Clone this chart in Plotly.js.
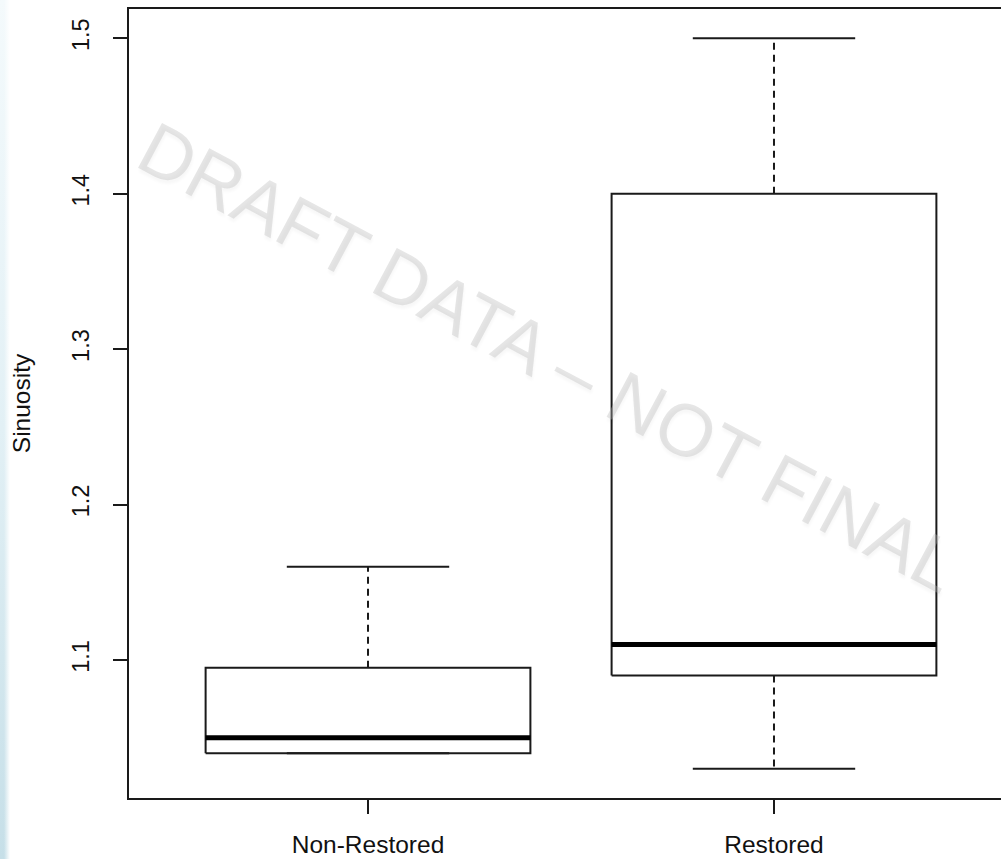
<!DOCTYPE html>
<html>
<head>
<meta charset="utf-8">
<script src="https://cdn.plot.ly/plotly-3.0.1.min.js"></script>
<style>
  html, body { margin: 0; padding: 0; width: 1001px; height: 859px; overflow: hidden; background: #ffffff; }
  #strip { position: absolute; left: 0; top: 0; width: 10px; height: 859px;
    background: linear-gradient(to bottom, #f4fafc 0%, #e2f0f5 50%, #c6dfe8 100%); }
  #strip::after { content: ""; position: absolute; left: 0; top: 0; width: 10px; height: 100%;
    background: linear-gradient(to right, rgba(255,255,255,0) 0%, rgba(255,255,255,0) 40%, rgba(255,255,255,1) 100%); }
  #chart { position: absolute; left: 0; top: 0; }
</style>
</head>
<body>
<div id="strip"></div>
<div id="chart"></div>
<script>
// ---- data ----
const groups = ['Non-Restored', 'Restored'];
const lowerWhisker = [1.04, 1.03];
const q1 = [1.04, 1.09];
const median = [1.05, 1.11];
const q3 = [1.095, 1.40];
const upperWhisker = [1.16, 1.50];
const yTicks = [1.1, 1.2, 1.3, 1.4, 1.5];
const yTickLabels = ['1.1', '1.2', '1.3', '1.4', '1.5'];
const yLabel = 'Sinuosity';
const watermark = 'DRAFT DATA \u2013 NOT FINAL';

// ---- style ----
const halfBox = 0.4, halfCap = 0.2;
const lineCol = '#1a1a1a';
const FONT = 'Liberation Sans, Arial, sans-serif';

const pos = groups.map((g, i) => i + 1);

const boxX = [], boxY = [], medX = [], medY = [], whX = [], whY = [], capX = [], capY = [];
pos.forEach((p, i) => {
  boxX.push(p - halfBox, p + halfBox, p + halfBox, p - halfBox, p - halfBox, null);
  boxY.push(q1[i], q1[i], q3[i], q3[i], q1[i], null);
  medX.push(p - halfBox, p + halfBox, null);
  medY.push(median[i], median[i], null);
  if (upperWhisker[i] > q3[i]) { whX.push(p, p, null); whY.push(q3[i], upperWhisker[i], null); }
  if (lowerWhisker[i] < q1[i]) { whX.push(p, p, null); whY.push(q1[i], lowerWhisker[i], null); }
  capX.push(p - halfCap, p + halfCap, null, p - halfCap, p + halfCap, null);
  capY.push(upperWhisker[i], upperWhisker[i], null, lowerWhisker[i], lowerWhisker[i], null);
});

const traces = [
  { x: whX, y: whY, mode: 'lines', line: { color: lineCol, width: 2, dash: '7px,5px' }, hoverinfo: 'skip' },
  { x: capX, y: capY, mode: 'lines', line: { color: lineCol, width: 2 }, hoverinfo: 'skip' },
  { x: boxX, y: boxY, mode: 'lines', line: { color: lineCol, width: 2 }, hoverinfo: 'skip' },
  { x: medX, y: medY, mode: 'lines', line: { color: '#000000', width: 5 }, hoverinfo: 'skip' }
];

const layout = {
  width: 1014, height: 859,
  margin: { l: 129, r: 1, t: 9, b: 61 },
  paper_bgcolor: 'rgba(0,0,0,0)',
  plot_bgcolor: 'rgba(0,0,0,0)',
  showlegend: false,
  font: { family: FONT, color: '#000000', size: 24 },
  xaxis: {
    range: [0.4113, 2.5887],
    tickmode: 'array', tickvals: pos, ticktext: groups,
    ticks: 'outside', ticklen: 14, tickwidth: 2, tickcolor: lineCol,
    showline: true, linewidth: 2, linecolor: lineCol, mirror: true,
    showgrid: false, zeroline: false,
    tickfont: { family: FONT, size: 24.5, color: '#111' },
    ticklabelstandoff: 10
  },
  yaxis: {
    range: [1.0112, 1.5188],
    tickmode: 'array', tickvals: yTicks, ticktext: yTickLabels,
    ticks: 'outside', ticklen: 14, tickwidth: 2, tickcolor: lineCol,
    tickangle: -90,
    showline: true, linewidth: 2, linecolor: lineCol, mirror: true,
    showgrid: false, zeroline: false,
    tickfont: { family: FONT, size: 23.5, color: '#111' },
    ticklabelstandoff: 15,
    title: { text: yLabel, font: { family: FONT, size: 24.5, color: '#111' }, standoff: 30 }
  },
  annotations: [{
    text: watermark, xref: 'paper', yref: 'paper',
    x: 0.475, y: 0.5577, xanchor: 'center', yanchor: 'middle',
    showarrow: false, textangle: 28,
    font: { family: FONT, size: 74, color: 'rgba(185,185,185,0.36)', shadow: '2px 3px 3px rgba(0,0,0,0.09)' }
  }]
};

Plotly.newPlot('chart', traces, layout, { staticPlot: true, displayModeBar: false });
</script>
</body>
</html>
